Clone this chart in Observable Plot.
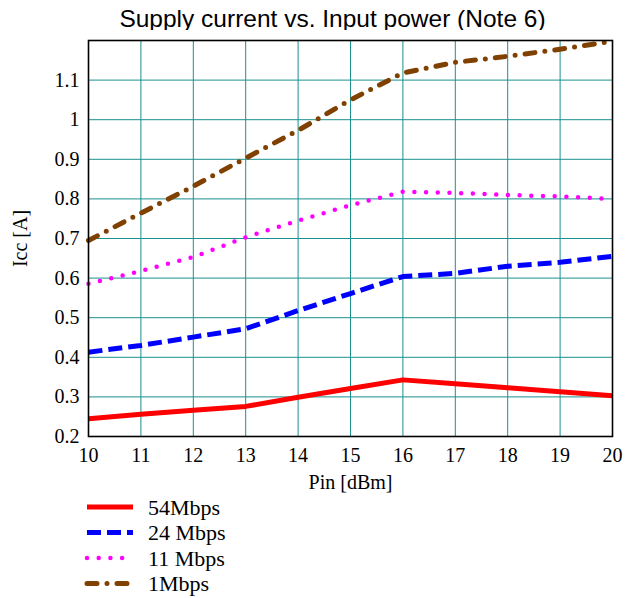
<!DOCTYPE html>
<html><head><meta charset="utf-8">
<script src="https://cdn.jsdelivr.net/npm/d3@7"></script>
<script src="https://cdn.jsdelivr.net/npm/@observablehq/plot@0.6"></script>
<style>
body{margin:0;background:#fff;width:629px;height:598px;overflow:hidden;position:relative;font-family:"Liberation Serif",serif}
#title{position:absolute;left:0;top:5px;width:665px;text-align:center;font:24.5px "Liberation Sans",Arial,sans-serif;color:#000;white-space:nowrap}
#chart{position:absolute;left:0;top:30px}
#legend{position:absolute;left:0;top:494px}
</style></head><body>
<div id="title">Supply current vs. Input power (Note 6)</div>
<div id="chart"></div>
<svg id="legend" width="629" height="104"></svg>
<script>
const pin = [10,11,12,13,14,15,16,17,18,19,20];
const yTicks = [0.2,0.3,0.4,0.5,0.6,0.7,0.8,0.9,1.0,1.1];
const seriesNames = ["54Mbps","24 Mbps","11 Mbps","1Mbps"];
const icc54 = [0.245,0.256,0.266,0.276,0.299,0.321,0.343,0.333,0.323,0.313,0.303];
const icc24 = [0.413,0.430,0.451,0.472,0.518,0.561,0.604,0.612,0.630,0.640,0.655];
const icc11 = [0.586,0.618,0.653,0.703,0.745,0.784,0.818,0.815,0.810,0.806,0.800];
const icc1  = [0.695,0.764,0.832,0.903,0.973,1.050,1.118,1.145,1.160,1.178,1.198];
const seriesValues = [icc54, icc24, icc11, icc1];
const colors = ["#ff0000","#0000ff","#ff00ff","#804000"];
const dashes = [null,"14,6","0,11.7","10,10,0,10"];
const widths = [5,5,4.5,5];
const caps = ["butt","butt","round","round"];

const lineMarks = seriesValues.map((vals,i) => {
  const data = pin.map((p,j) => ({pin:p, icc:vals[j]}));
  return Plot.line(data, {x:"pin", y:"icc", stroke:colors[i], strokeWidth:widths[i],
    strokeDasharray:dashes[i] || undefined, strokeLinecap:caps[i], strokeLinejoin:"round"});
});

const chart = Plot.plot({
  width:629, height:470,
  marginTop:10, marginBottom:64, marginLeft:88, marginRight:17,
  style:{fontFamily:"'Liberation Serif', serif", fontSize:"20px", color:"#000", background:"#fff"},
  x:{domain:[10,20], ticks:pin, tickSize:0, tickPadding:11, label:"Pin [dBm]", labelArrow:"none", labelAnchor:"center", labelOffset:52},
  y:{domain:[0.2,1.2], ticks:yTicks, tickSize:0, tickPadding:9, tickFormat:d3.format("~g"), label:"Icc [A]", labelArrow:"none", labelAnchor:"center", labelOffset:76},
  marks:[
    Plot.gridX(pin, {stroke:"#1a9090", strokeOpacity:1, strokeWidth:1}),
    Plot.gridY(yTicks, {stroke:"#1a9090", strokeOpacity:1, strokeWidth:1}),
    ...lineMarks,
    Plot.frame({stroke:"#000", strokeWidth:1.6})
  ]
});
document.getElementById("chart").appendChild(chart);

const leg = d3.select("#legend");
seriesNames.forEach((name,i) => {
  const y = 13 + i*25.5;
  leg.append("line").attr("x1",87).attr("x2",133).attr("y1",y).attr("y2",y)
    .attr("stroke",colors[i]).attr("stroke-width",widths[i])
    .attr("stroke-dasharray",dashes[i]).attr("stroke-linecap",caps[i]);
  leg.append("text").attr("x",148).attr("y",y).attr("dy","0.35em")
    .attr("font-family","'Liberation Serif', serif").attr("font-size","22px").attr("fill","#000").text(name);
});
</script>
</body></html>
